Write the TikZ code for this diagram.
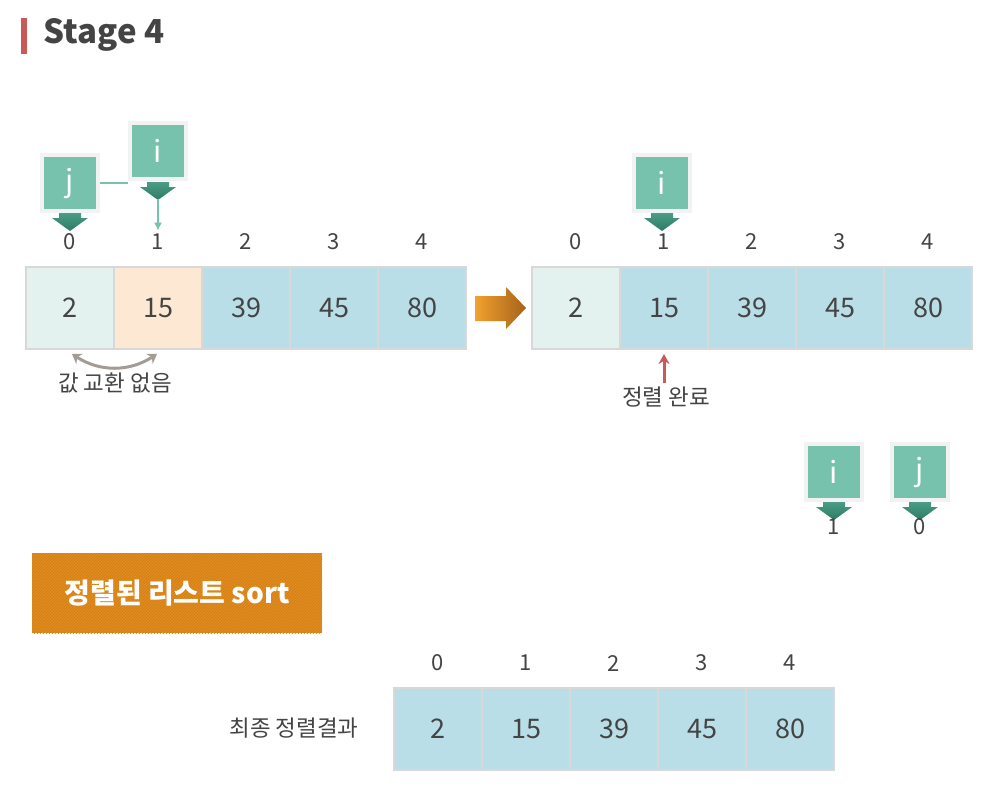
\documentclass[tikz,border=0pt]{standalone}
\usepackage{fontspec}
\setmainfont{Noto Sans CJK KR}
\usetikzlibrary{arrows.meta,patterns}

\definecolor{txtgray}{HTML}{444444}
\definecolor{titlered}{HTML}{C85A5A}
\definecolor{cellblue}{HTML}{B9DEE7}
\definecolor{cellmint}{HTML}{E3F2EF}
\definecolor{cellpeach}{HTML}{FDE9D3}
\definecolor{cellline}{HTML}{D8D8D8}
\definecolor{ptrgreen}{HTML}{77C2AD}
\definecolor{ptrdark}{HTML}{2E7B64}
\definecolor{ptrmid}{HTML}{4A9C84}
\definecolor{swapgray}{HTML}{A39C95}
\definecolor{donered}{HTML}{C85A5E}
\definecolor{arrowL}{HTML}{F2A12E}
\definecolor{arrowR}{HTML}{A5621A}
\definecolor{bannerorange}{HTML}{E38C1D}

\tikzset{
  cell/.style={draw=cellline, line width=2pt, fill=cellblue, minimum width=88pt, minimum height=82pt, inner sep=0pt, text=txtgray, font=\fontsize{27}{27}\selectfont},
  idx/.style={text=txtgray, font=\fontsize{22}{22}\selectfont},
  ptrbox/.style={fill=ptrgreen, draw=black!5, line width=4pt, minimum size=56pt, inner sep=0pt, text=white, font=\fontsize{30}{30}\selectfont},
  note/.style={text=txtgray, font=\fontsize{22.5}{22.5}\selectfont},
}

% down pointer under a box: x, top y
\newcommand{\ptrtip}[2]{%
  \shade[top color=ptrmid, bottom color=ptrdark] (#1-11,#2) -- (#1+11,#2) -- (#1+11,#2+5) -- (#1+18,#2+5) -- (#1,#2+18) -- (#1-18,#2+5) -- (#1-11,#2+5) -- cycle;}

\begin{document}
\begin{tikzpicture}[x=1pt,y=-1pt]
\useasboundingbox (0,0) rectangle (987,788);

% title
\fill[titlered] (21,18) rectangle (27,54);
\draw (40,35) node[anchor=west, text=txtgray, font=\bfseries\fontsize{33}{33}\selectfont] (title) {Stage 4};

% left array
\foreach \v/\x [count=\k from 0] in {2/70,15/158,39/246,45/334,80/422} {
  \draw (\x,308) node[cell] (a\k) {\v};
  \draw (\x,242) node[idx] (ia\k) {\k};
}
\draw (70,308) node[cell, fill=cellmint] (a0) {2};
\draw (158,308) node[cell, fill=cellpeach] (a1) {15};

\draw (70,183) node[ptrbox] (jA) {j};
\draw (158,151) node[ptrbox] (iA) {i};
\ptrtip{70}{213}
\ptrtip{158}{182}
\draw[ptrgreen, line width=1.5pt] (jA.east) -- (jA.east -| iA.west);
\coordinate (iAtip) at (158,199);
\draw[ptrgreen, line width=1.5pt, -{Latex[length=8pt,width=8pt]}] (iAtip) -- (ia1.north);

\coordinate (swapL) at (72,354);
\coordinate (swapR) at (157,354);
\draw[swapgray, line width=3pt, {Stealth[length=9pt,width=12pt]}-{Stealth[length=9pt,width=12pt]}] (swapL) .. controls (100,372) and (129,372) .. (swapR);
\draw (115,383) node[note] (noswap) {값 교환 없음};

% orange arrow
\shade[left color=arrowL, right color=arrowR] (475,296) -- (506,296) -- (506,287) -- (526,308) -- (506,329) -- (506,321) -- (475,321) -- cycle;

% right array
\foreach \v/\x [count=\k from 0] in {2/576,15/664,39/752,45/840,80/928} {
  \draw (\x,308) node[cell] (b\k) {\v};
  \draw (\x,242) node[idx] (ib\k) {\k};
}
\draw (576,308) node[cell, fill=cellmint] (b0) {2};

\draw (662,183) node[ptrbox] (iB) {i};
\ptrtip{662}{213}
\draw (666,397) node[note] (done) {정렬 완료};
\draw[donered, line width=3pt, -{Stealth[length=10pt,width=11pt]}] (done.north -| b1.south) -- ([yshift=-4pt]b1.south);

% i, j at end
\draw (834,472) node[ptrbox] (iC) {i};
\draw (920,472) node[ptrbox] (jC) {j};
\ptrtip{834}{502}
\ptrtip{920}{502}
\draw (834,527) node[idx] (iCv) {1};
\draw (920,527) node[idx] (jCv) {0};

% sorted list
\draw (177,593) node[fill=bannerorange, minimum width=290pt, minimum height=80pt, postaction={pattern=north east lines, pattern color=bannerorange!90!black}, text=white, font=\bfseries\fontsize{28}{28}\selectfont] (sorted) {정렬된 리스트 sort};

\foreach \v/\x [count=\k from 0] in {2/438,15/526,39/614,45/702,80/790} {
  \draw (\x,729) node[cell] (c\k) {\v};
  \draw (\x,663) node[idx] (ic\k) {\k};
}
\draw (294,728) node[note] (final) {최종 정렬결과};
\end{tikzpicture}
\end{document}
